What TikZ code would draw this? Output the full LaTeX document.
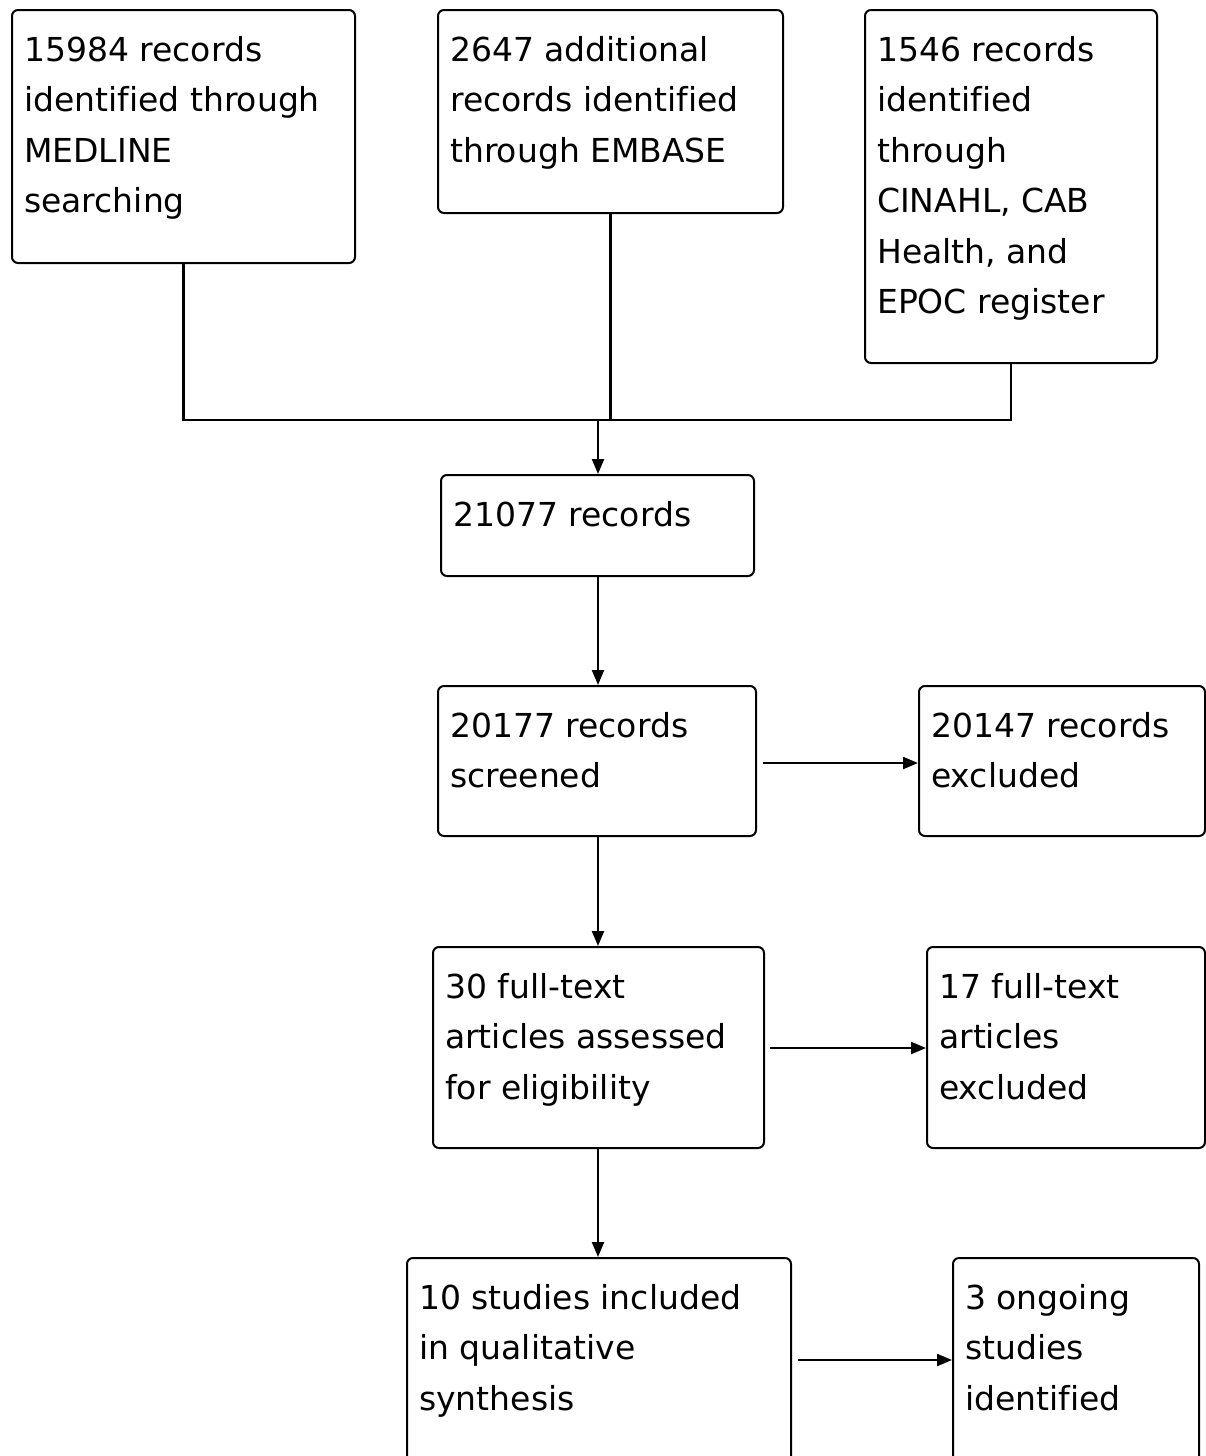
\documentclass[tikz,border=0pt]{standalone}
\usepackage{fontspec}
\setmainfont{DejaVu Sans}[Ligatures={NoCommon}]
\usetikzlibrary{arrows.meta}
\tikzset{
  box/.style={draw, line width=2pt, rounded corners=6pt, inner sep=0pt},
  txt/.style={anchor=north west, inner sep=0pt, align=left, font=\fontsize{33}{50.5}\selectfont},
  arr/.style={-{Triangle[length=15pt,width=12pt]}, line width=2.2pt},
  ln/.style={line width=2.2pt}
}
\newcommand\flowbox[6]{%
  \node[box, minimum width={#4-#2}, minimum height={#5-#3}] (#1) at ({(#2+#4)/2},{(#3+#5)/2}) {};
  \node[txt] (#1t) at ([shift={(13,27)}]#1.north west) {#6};
}
\begin{document}
\begin{tikzpicture}[x=1pt,y=-1pt]
\fill[white] (0,0) rectangle (1206,1456);
\useasboundingbox (0,0) rectangle (1206,1456);
\flowbox{b1}{12}{10}{355}{263}{15984 records\\identified through\\MEDLINE\\searching}
\flowbox{b2}{438}{10}{783}{213}{2647 additional\\records identified\\through EMBASE}
\flowbox{b3}{865}{10}{1157}{363}{1546 records\\identified\\through\\CINAHL, CAB\\Health, and\\EPOC register}
\flowbox{b4}{441}{475}{754}{576}{21077 records}
\flowbox{b5}{438}{686}{756}{836}{20177 records\\screened}
\flowbox{b6}{919}{686}{1205}{836}{20147 records\\excluded}
\flowbox{b7}{433}{947}{764}{1148}{30 full-text\\articles assessed\\for eligibility}
\flowbox{b8}{927}{947}{1205}{1148}{17 full-text\\articles\\excluded}
\flowbox{b9}{407}{1258}{791}{1475}{10 studies included\\in qualitative\\synthesis}
\flowbox{b10}{953}{1258}{1199}{1475}{3 ongoing\\studies\\identified}
\coordinate (hl) at (0,420);
\coordinate (ax) at (598,0);
\draw[ln] (b1.south) -- (b1.south |- hl) -- (b3.south |- hl) -- (b3.south);
\draw[ln] (b2.south) -- (b2.south |- hl);
\draw[arr] (ax |- hl) -- (ax |- b4.north);
\draw[arr] (ax |- b4.south) -- (ax |- b5.north);
\draw[arr] (ax |- b5.south) -- (ax |- b7.north);
\draw[arr] (ax |- b7.south) -- (ax |- b9.north);
\draw[arr, shorten <=6pt] (b5.east |- 0,763) -- (b6.west |- 0,763);
\draw[arr, shorten <=5pt] (b7.east |- 0,1048) -- (b8.west |- 0,1048);
\draw[arr, shorten <=6pt] (b9.east |- 0,1360) -- (b10.west |- 0,1360);
\end{tikzpicture}
\end{document}
